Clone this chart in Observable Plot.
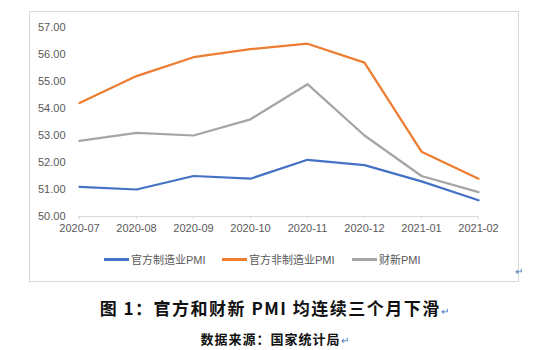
<!DOCTYPE html>
<html>
<head>
<meta charset="utf-8">
<script src="https://cdn.jsdelivr.net/npm/d3@7"></script>
<script src="https://cdn.jsdelivr.net/npm/@observablehq/plot@0.6"></script>
<style>
  html, body { margin: 0; padding: 0; background: #fff; }
  #wrap { position: relative; width: 550px; height: 350px; overflow: hidden; font-family: "Liberation Sans", Arial, "Noto Sans CJK SC", sans-serif; }
  #frame { position: absolute; left: 29px; top: 11px; width: 488px; height: 269px; border: 1px solid #d9d9d9; box-sizing: content-box; }
  #chart { position: absolute; left: 0; top: 0; }
  #legend { position: absolute; top: 250px; left: 0; width: 550px; height: 18px; font-size: 11px; color: #595959; font-family: "Liberation Sans", Arial, "Noto Sans CJK SC", sans-serif; }
  .item { position: absolute; top: 0; display: flex; align-items: center; height: 18px; white-space: nowrap; }
  .sw { display: inline-block; width: 25px; height: 3px; margin-right: 2px; }
  .ret { color: #4472C4; font-size: 10px; font-weight: normal; }
  #caption { position: absolute; top: 295px; left: 0; width: 550px; text-align: center; font-size: 17px; font-weight: bold; color: #111; font-family: "Noto Sans CJK SC", sans-serif; letter-spacing: 1.5px; }
  #source { position: absolute; top: 329px; left: 0; width: 550px; text-align: center; font-size: 13px; font-weight: bold; color: #111; font-family: "Noto Sans CJK SC", sans-serif; letter-spacing: 1px; }
  #ret1 { position: absolute; left: 515px; top: 266px; }
</style>
</head>
<body>
<div id="wrap">
  <div id="frame"></div>
  <div id="chart"></div>
  <div id="legend"></div>
  <div id="ret1" class="ret">↵</div>
  <div id="caption"></div>
  <div id="source"></div>
</div>
<script>
const months = ["2020-07","2020-08","2020-09","2020-10","2020-11","2020-12","2021-01","2021-02"];
const officialMfg = [51.1, 51.0, 51.5, 51.4, 52.1, 51.9, 51.3, 50.6];
const officialNonMfg = [54.2, 55.2, 55.9, 56.2, 56.4, 55.7, 52.4, 51.4];
const caixin = [52.8, 53.1, 53.0, 53.6, 54.9, 53.0, 51.5, 50.9];
const seriesNames = ["官方制造业PMI", "官方非制造业PMI", "财新PMI"];
const seriesColors = ["#4472C4", "#ED7D31", "#A5A5A5"];
const yTicks = [50, 51, 52, 53, 54, 55, 56, 57];
const captionText = "图 1：官方和财新 PMI 均连续三个月下滑";
const sourceText = "数据来源：国家统计局";

const allSeries = [officialMfg, officialNonMfg, caixin];
const data = allSeries.flatMap((vals, si) => vals.map((v, i) => ({month: months[i], value: v, series: seriesNames[si]})));

const chart = Plot.plot({
  width: 550,
  height: 240,
  marginLeft: 78,
  marginRight: 71,
  marginTop: 27,
  marginBottom: 24,
  style: {fontFamily: "Liberation Sans, Arial, sans-serif", fontSize: "11px", color: "#595959", background: "transparent"},
  x: {type: "point", domain: months, padding: 0, label: null},
  y: {domain: [50, 57], label: null},
  color: {domain: seriesNames, range: seriesColors},
  marks: [
    Plot.ruleY([50], {stroke: "#d9d9d9", strokeWidth: 1}),
    Plot.axisX({tickSize: 3, stroke: "#d9d9d9", tickPadding: 5, fill: "#595959", fontSize: 11}),
    Plot.axisY({ticks: yTicks, tickSize: 0, tickPadding: 13, tickFormat: d => d.toFixed(2), fill: "#595959", fontSize: 11}),
    Plot.line(data, {x: "month", y: "value", z: "series", stroke: "series", strokeWidth: 2.25, curve: "linear"})
  ]
});
document.getElementById("chart").appendChild(chart);

const legend = document.getElementById("legend");
const lefts = [104, 222, 352];
seriesNames.forEach((name, i) => {
  const item = document.createElement("div");
  item.className = "item";
  item.style.left = lefts[i] + "px";
  const sw = document.createElement("span");
  sw.className = "sw";
  sw.style.background = seriesColors[i];
  item.appendChild(sw);
  item.appendChild(document.createTextNode(name));
  legend.appendChild(item);
});

document.getElementById("caption").innerHTML = captionText + '<span class="ret">↵</span>';
document.getElementById("source").innerHTML = sourceText + '<span class="ret">↵</span>';
</script>
</body>
</html>
